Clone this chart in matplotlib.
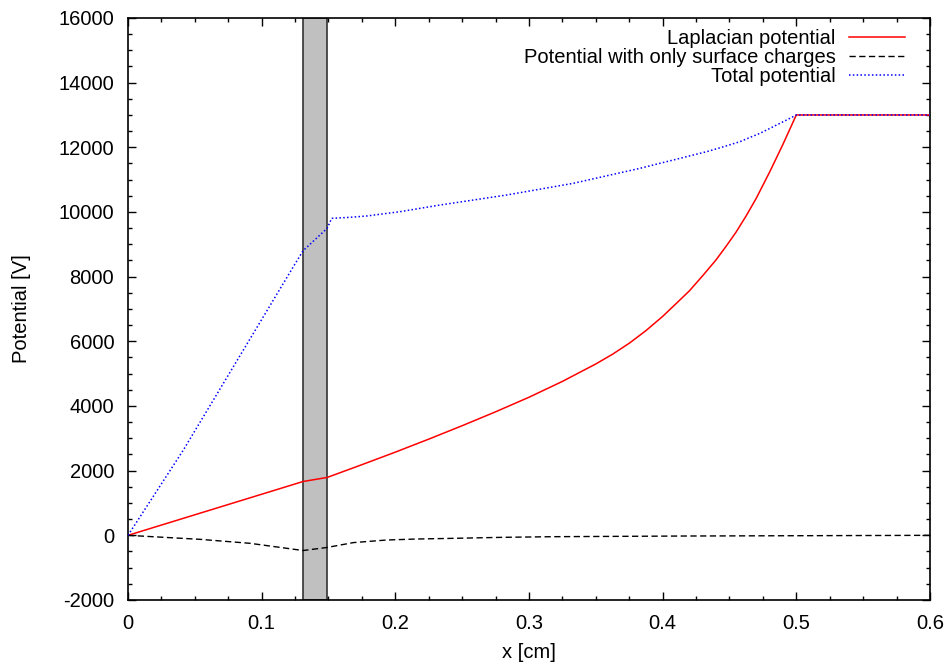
import matplotlib
matplotlib.use("Agg")
import matplotlib.pyplot as plt
from matplotlib.ticker import MultipleLocator, FuncFormatter

plt.rcParams['font.family'] = ['Liberation Sans', 'DejaVu Sans']
plt.rcParams['axes.unicode_minus'] = False

# Laplacian potential
lap_x = [0, 0.131, 0.149, 0.175, 0.2, 0.225, 0.25, 0.275, 0.3, 0.325, 0.35, 0.3625,
         0.375, 0.3875, 0.4, 0.41, 0.42, 0.43, 0.44, 0.4475, 0.455, 0.4625, 0.47,
         0.48, 0.49, 0.5, 0.6]
lap_y = [0, 1665, 1790, 2185, 2573, 2975, 3390, 3820, 4270, 4760, 5300, 5600,
         5940, 6330, 6770, 7163, 7560, 8030, 8520, 8940, 9380, 9880, 10420,
         11230, 12090, 13000, 13000]

# Potential with only surface charges
surf_x = [0, 0.0539, 0.0913, 0.131, 0.149, 0.1686, 0.1935, 0.215, 0.2434, 0.28,
          0.3182, 0.418, 0.5178, 0.6]
surf_y = [0, -124, -247, -470, -375, -225, -145, -115, -93, -62,
          -42, -21, -10, 0]

# Total potential
tot_x = [0, 0.0414, 0.0788, 0.1237, 0.131, 0.149, 0.1524, 0.166, 0.1786, 0.2035,
         0.2334, 0.2833, 0.3332, 0.383, 0.4329, 0.445, 0.4579, 0.465, 0.4728,
         0.48, 0.4878, 0.494, 0.5, 0.6]
tot_y = [0, 2638, 5214, 8308, 8803, 9495, 9804, 9835, 9876, 10009,
         10215, 10525, 10887, 11350, 11865, 12010, 12175, 12300, 12433,
         12580, 12742, 12870, 13000, 13000]

band = (0.131, 0.149)

FS = 14.5

fig = plt.figure(figsize=(9.49, 6.66), dpi=100)
ax = fig.add_axes([0.1349, 0.0991, 0.845, 0.8739])

ax.axvspan(band[0], band[1], facecolor='#c0c0c0', edgecolor='#333333', lw=1.2, zorder=1)

ax.plot(lap_x, lap_y, color='#ff0000', lw=1.1, label='Laplacian potential', zorder=3)
ax.plot(surf_x, surf_y, color='black', lw=1.0, dashes=(4.5, 2.5),
        label='Potential with only surface charges', zorder=3)
ax.plot(tot_x, tot_y, color='#0000ff', lw=1.1, dashes=(1, 1.5),
        label='Total potential', zorder=3)

ax.set_xlim(0, 0.6)
ax.set_ylim(-2000, 16000)
ax.xaxis.set_major_locator(MultipleLocator(0.1))
ax.xaxis.set_minor_locator(MultipleLocator(0.025))
ax.yaxis.set_major_locator(MultipleLocator(2000))
ax.yaxis.set_minor_locator(MultipleLocator(500))
ax.xaxis.set_major_formatter(FuncFormatter(lambda v, p: '%g' % round(v, 3)))
ax.yaxis.set_major_formatter(FuncFormatter(lambda v, p: '%d' % round(v)))
ax.tick_params(which='both', direction='in', top=True, right=True, labelsize=FS, width=1.0)
ax.tick_params(which='major', length=6, pad=10)
ax.tick_params(which='minor', length=3)
for s in ax.spines.values():
    s.set_linewidth(1.2)

ax.set_xlabel('x [cm]', fontsize=FS, labelpad=7)
ax.set_ylabel('Potential [V]', fontsize=FS, labelpad=20)

leg = ax.legend(loc='upper right', markerfirst=False, frameon=False, fontsize=FS,
                handlelength=2.8, handletextpad=0.65, labelspacing=0.0,
                borderaxespad=0, borderpad=0,
                bbox_to_anchor=((905 - 128) / 802, 1 - 11 / 582))
try:
    for col in leg._legend_box._children[-1]._children:
        col.align = 'right'
except Exception:
    pass

fig.savefig('out.png', dpi=100)
